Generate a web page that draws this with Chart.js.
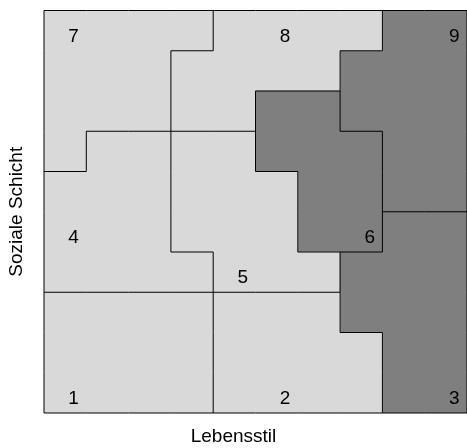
<!DOCTYPE html>
<html lang="de">
<head>
<meta charset="UTF-8">
<title>Soziale Schicht / Lebensstil</title>
<script src="https://cdn.jsdelivr.net/npm/chart.js@4/dist/chart.umd.min.js"></script>
<style>
    html, body { margin: 0; padding: 0; background: #fff; }
    #wrap { width: 467px; height: 448px; }
</style>
</head>
<body>
<div id="wrap"><canvas id="chart"></canvas></div>
<script>
// Milieu-Karte: welches Feld (Spalte = Lebensstil, Zeile = Schicht) gehört zu welchem Milieu
// oberste Zeile zuerst
const regionGrid = [
    [7, 7, 7, 7, 8, 8, 8, 8, 9, 9],
    [7, 7, 7, 8, 8, 8, 8, 9, 9, 9],
    [7, 7, 7, 8, 8, 6, 6, 9, 9, 9],
    [7, 4, 4, 5, 5, 6, 6, 6, 9, 9],
    [4, 4, 4, 5, 5, 5, 6, 6, 9, 9],
    [4, 4, 4, 5, 5, 5, 6, 6, 3, 3],
    [4, 4, 4, 4, 5, 5, 5, 3, 3, 3],
    [1, 1, 1, 1, 2, 2, 2, 3, 3, 3],
    [1, 1, 1, 1, 2, 2, 2, 2, 3, 3],
    [1, 1, 1, 1, 2, 2, 2, 2, 3, 3]
];
const regionIds = [1, 2, 3, 4, 5, 6, 7, 8, 9];
const regionLabels = ['1', '2', '3', '4', '5', '6', '7', '8', '9'];
const xTitle = 'Lebensstil';
const yTitle = 'Soziale Schicht';

// Darstellung
const darkRegions = [3, 6, 9];
const lightFill = '#d9d9d9';
const darkFill = '#7f7f7f';
const fontFamily = '"Liberation Sans", Arial, sans-serif';
const fontSize = 19;
// Feld, in dem die Nummer steht (Spalte, Zeile von unten)
const labelCell = { 1: [0, 0], 2: [5, 0], 3: [9, 0], 4: [0, 4], 5: [4, 3], 6: [7, 4], 7: [0, 9], 8: [5, 9], 9: [9, 9] };

const nRows = regionGrid.length;
const nCols = regionGrid[0].length;

function regionAt(col, row) {
    // row von unten gezählt, außerhalb = 0
    if (col < 0 || col >= nCols || row < 0 || row >= nRows) return 0;
    return regionGrid[nRows - 1 - row][col];
}

// eine Balken-Serie je Milieu: pro Spalte ein schwebender Balken [von, bis]
const barSets = regionIds.map(function(id) {
    const data = [];
    for (let c = 0; c < nCols; c++) {
        let lo = null, hi = null;
        for (let r = 0; r < nRows; r++) {
            if (regionAt(c, r) === id) {
                if (lo === null) lo = r;
                hi = r + 1;
            }
        }
        if (lo !== null) data.push({ x: c + 0.5, y: [lo, hi] });
    }
    return {
        type: 'bar',
        label: regionLabels[id - 1],
        data: data,
        backgroundColor: darkRegions.includes(id) ? darkFill : lightFill,
        borderWidth: 0,
        barPercentage: 1,
        categoryPercentage: 1,
        grouped: false,
        order: 1
    };
});

// Grenzlinien zwischen Feldern verschiedener Milieus
const edges = [];
for (let c = 0; c <= nCols; c++) {
    for (let r = 0; r < nRows; r++) {
        if (regionAt(c - 1, r) !== regionAt(c, r)) {
            edges.push({ x: c, y: r }, { x: c, y: r + 1 }, { x: NaN, y: NaN });
        }
    }
}
for (let r = 0; r <= nRows; r++) {
    for (let c = 0; c < nCols; c++) {
        if (regionAt(c, r - 1) !== regionAt(c, r)) {
            edges.push({ x: c, y: r }, { x: c + 1, y: r }, { x: NaN, y: NaN });
        }
    }
}

const labelPlugin = {
    id: 'regionLabels',
    afterDatasetsDraw(chart) {
        const ctx = chart.ctx;
        const xs = chart.scales.x, ys = chart.scales.y;
        ctx.save();
        ctx.font = fontSize + 'px ' + fontFamily;
        ctx.fillStyle = '#000';
        ctx.textAlign = 'center';
        ctx.textBaseline = 'middle';
        regionIds.forEach(function(id) {
            const cell = labelCell[id];
            ctx.fillText(regionLabels[id - 1],
                xs.getPixelForValue(cell[0] + 0.7),
                ys.getPixelForValue(cell[1] + 0.35));
        });
        ctx.restore();
    }
};

new Chart(document.getElementById('chart'), {
    type: 'bar',
    data: {
        datasets: [{
            type: 'line',
            label: 'Grenzen',
            data: edges,
            borderColor: '#000',
            borderWidth: 1,
            pointRadius: 0,
            fill: false,
            spanGaps: false,
            clip: false,
            order: -1
        }].concat(barSets)
    },
    options: {
        responsive: true,
        maintainAspectRatio: false,
        animation: false,
        events: [],
        layout: { padding: { top: 10.5, right: 0, bottom: 0, left: 0 } },
        plugins: {
            legend: { display: false },
            tooltip: { enabled: false },
            // x-Achsentitel: über die ganze Bildbreite zentriert
            title: {
                display: true,
                position: 'bottom',
                text: xTitle,
                color: '#000',
                font: { family: fontFamily, size: fontSize, weight: 'normal' },
                padding: { top: 12, bottom: 0.2 }
            }
        },
        scales: {
            x: {
                type: 'linear',
                display: false,
                min: 0,
                max: nCols,
                offset: false
            },
            y: {
                type: 'linear',
                min: 0,
                max: nRows,
                grid: { display: false, drawTicks: false },
                border: { display: false },
                ticks: { display: false },
                title: {
                    display: true,
                    text: yTitle,
                    color: '#000',
                    font: { family: fontFamily, size: fontSize },
                    padding: { top: 5.3, bottom: 15.9 }
                }
            }
        }
    },
    plugins: [labelPlugin]
});
</script>
</body>
</html>
